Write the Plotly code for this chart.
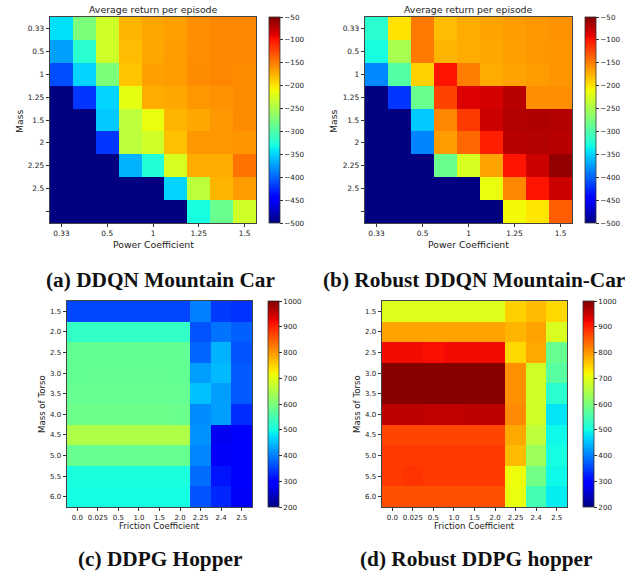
import numpy as np
import plotly.graph_objects as go

# ---------------- data ----------------
power_ticks = ["0.33", "0.5", "1", "1.25", "1.5"]          # shown at every 2nd column
mass_labels = ["0.33", "0.5", "1", "1.25", "1.5", "2", "2.25", "2.5", ""]

ddqn_mc = [
    [-345, -275, -230, -176, -169, -167, -158, -155, -155],
    [-373, -320, -230, -180, -170, -165, -158, -155, -155],
    [-410, -350, -275, -185, -167, -165, -157, -155, -157],
    [-500, -420, -350, -217, -172, -170, -163, -160, -157],
    [-500, -500, -355, -240, -215, -176, -170, -163, -157],
    [-500, -500, -420, -240, -230, -182, -163, -163, -162],
    [-500, -500, -500, -365, -325, -225, -172, -172, -145],
    [-500, -500, -500, -500, -500, -350, -240, -176, -165],
    [-500, -500, -500, -500, -500, -500, -330, -285, -230],
]

robust_ddqn_mc = [
    [-320, -198, -148, -180, -172, -168, -165, -163, -160],
    [-330, -250, -148, -176, -172, -170, -166, -163, -162],
    [-383, -297, -190, -100, -150, -172, -168, -165, -162],
    [-500, -420, -285, -122, -86, -83, -72, -158, -158],
    [-500, -500, -355, -155, -118, -80, -70, -68, -70],
    [-500, -500, -385, -165, -140, -105, -72, -70, -72],
    [-500, -500, -500, -285, -225, -168, -100, -80, -58],
    [-500, -500, -500, -500, -500, -215, -155, -100, -80],
    [-500, -500, -500, -500, -500, -500, -210, -200, -135],
]

friction_labels = ["0.0", "0.025", "0.5", "1.0", "1.5", "2.0", "2.25", "2.4", "2.5"]
torso_labels = ["1.5", "2.0", "2.5", "3.0", "3.5", "4.0", "4.5", "5.0", "5.5", "6.0"]

ddpg_hopper = [
    [355, 355, 355, 355, 355, 355, 400, 345, 340],
    [528, 528, 528, 528, 528, 528, 365, 390, 375],
    [575, 575, 575, 575, 575, 575, 380, 440, 365],
    [575, 577, 577, 577, 577, 575, 425, 445, 370],
    [578, 578, 578, 578, 578, 578, 450, 425, 370],
    [585, 585, 585, 585, 585, 583, 410, 425, 335],
    [650, 650, 650, 650, 650, 650, 415, 280, 290],
    [580, 580, 580, 580, 580, 580, 405, 285, 300],
    [505, 505, 505, 505, 505, 505, 385, 315, 290],
    [500, 500, 500, 500, 500, 500, 365, 330, 285],
]

robust_ddpg_hopper = [
    [695, 695, 695, 695, 695, 695, 752, 770, 745],
    [790, 790, 790, 790, 790, 790, 775, 790, 690],
    [920, 920, 915, 920, 920, 920, 745, 785, 580],
    [995, 995, 995, 995, 995, 995, 805, 680, 565],
    [995, 995, 995, 995, 995, 995, 805, 680, 520],
    [960, 960, 955, 955, 960, 960, 812, 680, 480],
    [870, 870, 870, 870, 870, 870, 785, 665, 495],
    [880, 880, 880, 880, 880, 880, 770, 630, 500],
    [880, 885, 880, 880, 880, 880, 710, 590, 495],
    [860, 860, 860, 860, 860, 860, 705, 545, 485],
]

captions = ["(a) DDQN Mountain Car", "(b) Robust DDQN Mountain-Car",
            "(c) DDPG Hopper", "(d) Robust DDPG hopper"]
title_text = "Average return per episode"

# ---------------- matplotlib-style jet ----------------
t = np.linspace(0, 1, 129)
r = np.interp(t, [0, .35, .66, .89, 1], [0, 0, 1, 1, .5])
g = np.interp(t, [0, .125, .375, .64, .91, 1], [0, 0, 1, 1, 0, 0])
b = np.interp(t, [0, .11, .34, .65, 1], [.5, 1, 1, 0, 0])
jet = [[float(tt), f"rgb({int(round(rr*255))},{int(round(gg*255))},{int(round(bb*255))})"]
       for tt, rr, gg, bb in zip(t, r, g, b)]

W, H = 640, 571
def px(x): return x / W
def py(y): return 1 - y / H

fig = go.Figure()

panels = [
    dict(z=ddqn_mc, box=(50, 256, 17, 223), cbx=269, zmin=-500, zmax=-50, dtick=50, kind="mc"),
    dict(z=robust_ddqn_mc, box=(365, 572, 17, 223), cbx=585, zmin=-500, zmax=-50, dtick=50, kind="mc"),
    dict(z=ddpg_hopper, box=(67, 252, 301, 507), cbx=268, zmin=200, zmax=1000, dtick=100, kind="hop"),
    dict(z=robust_ddpg_hopper, box=(382, 567, 301, 507), cbx=583, zmin=200, zmax=1000, dtick=100, kind="hop"),
]

font_sans = "DejaVu Sans"
for i, p in enumerate(panels):
    n = i + 1
    xa = "x" if n == 1 else f"x{n}"
    ya = "y" if n == 1 else f"y{n}"
    z = np.array(p["z"])
    nr, nc = z.shape
    x0, x1, y0, y1 = p["box"]
    tick_fs = 7.4 if p["kind"] == "mc" else 7
    fig.add_trace(go.Heatmap(
        z=z, x=list(range(nc)), y=list(range(nr)),
        colorscale=jet, zmin=p["zmin"], zmax=p["zmax"],
        xaxis=xa, yaxis=ya, hoverongaps=False,
        colorbar=dict(
            x=px(p["cbx"]), xanchor="left", xpad=0, ypad=0,
            y=py((y0 + y1) / 2), yanchor="middle",
            len=(y1 - y0) / H, lenmode="fraction",
            thickness=11, thicknessmode="pixels",
            outlinewidth=0.8, outlinecolor="#333",
            tick0=p["zmin"], dtick=p["dtick"], ticks="outside", ticklen=3,
            tickcolor="#333", tickwidth=0.8,
            tickfont=dict(family=font_sans, size=7.2, color="#222"),
        ),
    ))
    if p["kind"] == "mc":
        xtv, xtt = [0, 2, 4, 6, 8], power_ticks
        ytv, ytt = list(range(nr)), mass_labels
    else:
        xtv, xtt = list(range(nc)), friction_labels
        ytv, ytt = list(range(nr)), torso_labels
    axcommon = dict(showline=True, mirror=True, linecolor="#444", linewidth=0.8,
                    ticks="outside", ticklen=3.5, tickcolor="#333", tickwidth=0.8,
                    showgrid=False, zeroline=False,
                    tickfont=dict(family=font_sans, size=tick_fs, color="#222"))
    fig.layout[("xaxis" if n == 1 else f"xaxis{n}")] = dict(
        domain=[px(x0), px(x1)], anchor=ya, range=[-0.5, nc - 0.5],
        tickvals=xtv, ticktext=xtt, **axcommon)
    fig.layout[("yaxis" if n == 1 else f"yaxis{n}")] = dict(
        domain=[py(y1), py(y0)], anchor=xa, range=[nr - 0.5, -0.5],
        tickvals=ytv, ticktext=ytt, **axcommon)

annotations = []
def ann(text, x, y, size, family=font_sans, angle=0, color="#222"):
    annotations.append(dict(text=text, x=px(x), y=py(y), xref="paper", yref="paper",
                            showarrow=False, xanchor="center", yanchor="middle",
                            textangle=angle, font=dict(family=family, size=size, color=color)))

# titles
ann(title_text, 153, 9, 9.4)
ann(title_text, 468, 9, 9.4)
# x axis titles
ann("Power Coefficient", 153, 244, 9.3)
ann("Power Coefficient", 468, 244, 9.3)
ann("Friction Coefficient", 159.5, 526, 8.6)
ann("Friction Coefficient", 474.5, 526, 8.6)
# y axis titles
ann("Mass", 19, 121, 9.3, angle=-90)
ann("Mass", 333, 121, 9.3, angle=-90)
ann("Mass of Torso", 42, 404, 8.6, angle=-90)
ann("Mass of Torso", 357, 404, 8.6, angle=-90)
# captions
cap_font = "Liberation Serif"
ann(f"<b>{captions[0]}</b>", 160, 280, 21.3, family=cap_font, color="#111")
ann(f"<b>{captions[1]}</b>", 474, 280, 21.3, family=cap_font, color="#111")
ann(f"<b>{captions[2]}</b>", 160, 559, 21.3, family=cap_font, color="#111")
ann(f"<b>{captions[3]}</b>", 476, 559, 21.3, family=cap_font, color="#111")

fig.update_layout(width=W, height=H, margin=dict(l=0, r=0, t=0, b=0),
                  paper_bgcolor="white", plot_bgcolor="white",
                  annotations=annotations, showlegend=False)

# remove the browser's default 8px body margin so the figure sits at the page origin
fig.write_html("out.html", config={"displayModeBar": False},
               post_script="document.body.style.margin='0';")
